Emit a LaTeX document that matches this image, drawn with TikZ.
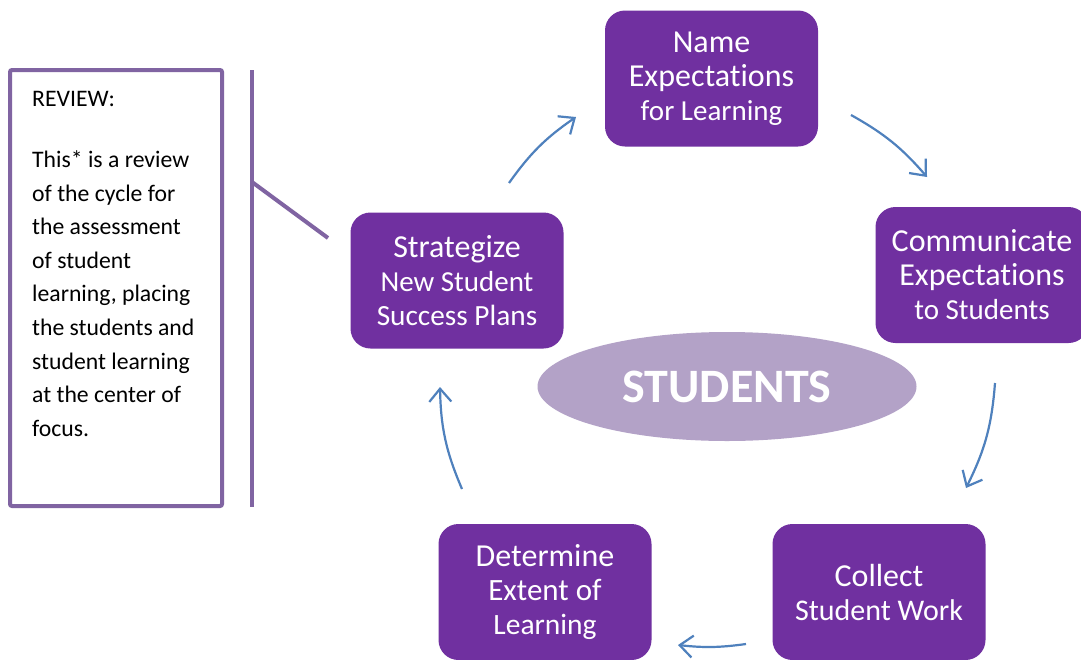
\documentclass[tikz,border=0pt]{standalone}
\usepackage{fontspec}
\setmainfont{Carlito}[Ligatures=NoCommon]
\usetikzlibrary{arrows.meta,shapes.geometric}
\definecolor{boxpurple}{HTML}{7030A0}
\definecolor{linepurple}{HTML}{8064A2}
\definecolor{lav}{HTML}{B3A2C7}
\definecolor{arrowblue}{HTML}{4F81BD}
\newcommand{\fsz}[1]{\fontsize{#1}{34}\selectfont}
\begin{document}
\begin{tikzpicture}[x=1pt,y=-1pt,
  stepbox/.style={fill=boxpurple, rounded corners=20pt, minimum width=213pt,
    minimum height=136pt, text=white, align=center, inner sep=0pt,
    font=\fontsize{30}{34}\selectfont},
  cyclearrow/.style={draw=arrowblue, line width=2.2pt,
    -{Straight Barb[length=13pt,width=22pt]}, bend left=10},
  calloutline/.style={draw=linepurple, line width=4pt},
  reviewbox/.style={draw=linepurple, line width=4pt, fill=white, rounded corners=2pt,
    minimum width=212pt, minimum height=436pt, inner sep=0pt},
  reviewtext/.style={align=left, inner sep=0pt, anchor=north west,
    font=\fontsize{23.7}{33.6}\selectfont}]
\useasboundingbox (0,0) rectangle (1081,659);
\fill[white] (0,0) rectangle (1081,659);

% review callout
\node[reviewbox] (review) at (116,288) {};
\node[reviewtext] (reviewtxt) at (32,91) {REVIEW:\\[27.4pt]
This* is a review\\ of the cycle for\\ the assessment\\ of student\\ learning, placing\\ the students and\\ student learning\\ at the center of\\ focus.};
\coordinate (calltop) at (252,70);
\coordinate (callbot) at (252,507);
\coordinate (callmid) at (252,182);
\coordinate (calltip) at (328,238);
\draw[calloutline] (calltop) -- (callbot);
\draw[calloutline] (callmid) -- (calltip);

% centre
\node[ellipse, fill=lav, minimum width=379pt, minimum height=109pt, inner sep=0pt,
  text=white, font=\bfseries\fontsize{48}{50}\selectfont] (students) at (727,386.5) {STUDENTS};

% cycle boxes
\node[stepbox] (name) at (711.5,78.5) {{\fsz{32}Name}\\{\fsz{32}Expectations}\\{\fsz{29}for Learning}};
\node[stepbox] (comm) at (982,275) {{\fsz{32}Communicate}\\{\fsz{32}Expectations}\\{\fsz{29}to Students}};
\node[stepbox] (collect) at (879,592) {{\fsz{32}Collect}\\{\fsz{30}Student Work}};
\node[stepbox] (determine) at (545,592) {{\fsz{32}Determine}\\{\fsz{31}Extent of}\\{\fsz{29.5}Learning}};
\node[stepbox] (strat) at (457,280.5) {{\fsz{32}Strategize}\\{\fsz{29}New Student}\\{\fsz{29.3}Success Plans}};

% arrows
\coordinate (a1s) at (509,183); \coordinate (a1e) at (576,117);
\coordinate (a2s) at (851,115); \coordinate (a2e) at (927,177);
\coordinate (a3s) at (995,383); \coordinate (a3e) at (966,488);
\coordinate (a4s) at (746,644); \coordinate (a4e) at (678,645);
\coordinate (a5s) at (462,489); \coordinate (a5e) at (440,387);
\draw[cyclearrow] (a1s) to (a1e);
\draw[cyclearrow] (a2s) to (a2e);
\draw[cyclearrow, bend left=11] (a3s) to (a3e);
\draw[cyclearrow, bend left=7] (a4s) to (a4e);
\draw[cyclearrow, bend left=11] (a5s) to (a5e);
\end{tikzpicture}
\end{document}
